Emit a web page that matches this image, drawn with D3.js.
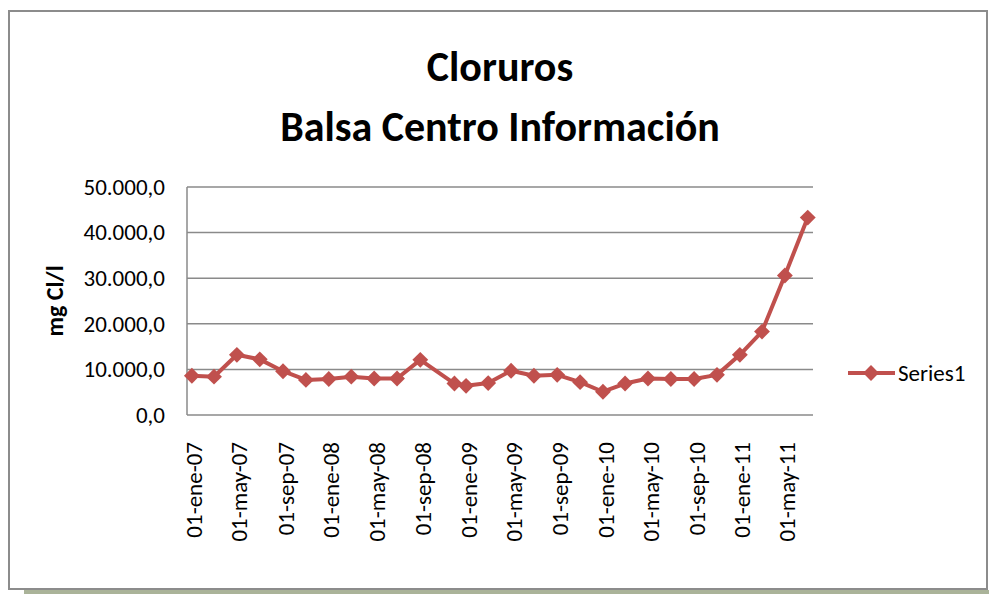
<!DOCTYPE html>
<html>
<head>
<meta charset="utf-8">
<script src="https://cdn.jsdelivr.net/npm/d3@7"></script>
<style>
  body { margin: 0; background: #ffffff; }
  .tick_text { font-family: Calibri, Carlito, "Open Sans", sans-serif; font-size: 23px; fill: #000; }
  .titles { font-family: Calibri, Carlito, "Open Sans", sans-serif; font-weight: bold; fill: #000; }
</style>
</head>
<body>
<script>

// sample dates (every two months, one extra sample in Dec 2008)
var dates = ["2007-01-01", "2007-03-01", "2007-05-01", "2007-07-01", "2007-09-01", "2007-11-01",
             "2008-01-01", "2008-03-01", "2008-05-01", "2008-07-01", "2008-09-01", "2008-12-01",
             "2009-01-01", "2009-03-01", "2009-05-01", "2009-07-01", "2009-09-01", "2009-11-01",
             "2010-01-01", "2010-03-01", "2010-05-01", "2010-07-01", "2010-09-01", "2010-11-01",
             "2011-01-01", "2011-03-01", "2011-05-01", "2011-07-01"];

// chloride values, mg Cl/l
var values = [8600, 8400, 13200, 12200, 9600, 7700,
              7900, 8400, 8000, 8000, 12100, 6900,
              6400, 7000, 9700, 8600, 8800, 7200,
              5100, 6900, 8000, 7900, 7900, 8800,
              13200, 18300, 30600, 43300];

var yTicks = [0, 10000, 20000, 30000, 40000, 50000];
var xTickLabels = ["01-ene-07", "01-may-07", "01-sep-07", "01-ene-08", "01-may-08", "01-sep-08", "01-ene-09",
                   "01-may-09", "01-sep-09", "01-ene-10", "01-may-10", "01-sep-10", "01-ene-11", "01-may-11"];
var seriesName = "Series1";

window.onload = function() {

  var w = 989;
  var h = 594;
  var margin = {top: 187, right: 176, bottom: 179, left: 187};
  var red = "#c0504d";

  var parse = d3.timeParse("%Y-%m-%d");
  var data = dates.map(function(d, i) { return [parse(d), values[i]]; });

  var svg = d3.select("body").append("svg")
              .attr("width", w)
              .attr("height", h);

  // shadow below the frame
  svg.append("rect")
     .attr("x", 24).attr("y", 590)
     .attr("width", w - 24).attr("height", 4)
     .style("fill", "#aab399");

  // chart frame
  svg.append("rect")
     .attr("x", 9).attr("y", 11)
     .attr("width", 978).attr("height", 578)
     .style("fill", "#ffffff")
     .style("stroke", "#8c8c8c")
     .style("stroke-width", 2);

  // title
  svg.append("text")
     .attr("class", "titles")
     .attr("x", 500).attr("y", 81)
     .style("font-size", "42px")
     .style("text-anchor", "middle")
     .text("Cloruros");

  svg.append("text")
     .attr("class", "titles")
     .attr("x", 500).attr("y", 141)
     .style("font-size", "42px")
     .style("text-anchor", "middle")
     .text("Balsa Centro Información");

  var xScale = d3.scaleTime()
                 .domain([parse("2006-12-19"), parse("2011-07-15")])
                 .range([margin.left, w - margin.right]);

  var yScale = d3.scaleLinear()
                 .domain([0, 50000])
                 .range([h - margin.bottom, margin.top]);

  // gridlines
  svg.selectAll(".grid")
     .data(yTicks)
     .enter().append("line")
     .attr("class", "grid")
     .attr("x1", margin.left)
     .attr("x2", w - margin.right)
     .attr("y1", function(d) { return yScale(d); })
     .attr("y2", function(d) { return yScale(d); })
     .style("stroke", "#8a8a8a")
     .style("stroke-width", 1.5);

  // left axis line
  svg.append("line")
     .attr("x1", margin.left).attr("x2", margin.left)
     .attr("y1", yScale(0)).attr("y2", yScale(50000))
     .style("stroke", "#8a8a8a")
     .style("stroke-width", 1.5);

  // y-axis
  var fmt = function(d) {
    return d3.format(",.1f")(d).replace(/,/g, "#").replace(".", ",").replace(/#/g, ".");
  };
  var yAxis = svg.append("g")
                 .attr("transform", "translate(" + margin.left + ",0)")
                 .call(d3.axisLeft(yScale).tickValues(yTicks).tickSize(0).tickPadding(22).tickFormat(fmt));
  yAxis.select(".domain").remove();
  yAxis.selectAll("text").attr("class", "tick_text").attr("fill", null);

  // y label
  svg.append("text")
     .attr("class", "titles")
     .attr("transform", "translate(63, 301) rotate(-90)")
     .style("font-size", "24px")
     .style("text-anchor", "middle")
     .text("mg Cl/l");

  // x-axis labels, every four months
  var tickDates = d3.timeMonth.every(4).range(parse("2007-01-01"), parse("2011-06-01"));
  var xAxis = svg.append("g")
                 .attr("transform", "translate(0," + (h - margin.bottom) + ")")
                 .call(d3.axisBottom(xScale).tickValues(tickDates).tickSize(0)
                         .tickFormat(function(d, i) { return xTickLabels[i]; }));
  xAxis.select(".domain").remove();
  xAxis.selectAll("text")
       .attr("class", "tick_text")
       .attr("fill", null)
       .attr("transform", "rotate(-90)")
       .attr("x", -27)
       .attr("y", 2)
       .attr("dy", "0.35em")
       .style("text-anchor", "end");

  // line
  var line = d3.line()
               .x(function(d) { return xScale(d[0]); })
               .y(function(d) { return yScale(d[1]); });

  svg.append("path")
     .datum(data)
     .attr("d", line)
     .style("fill", "none")
     .style("stroke", red)
     .style("stroke-width", 4)
     .style("stroke-linejoin", "round");

  // diamond markers
  var diamond = d3.symbol().type(d3.symbolDiamond2).size(160);
  svg.selectAll(".dots")
     .data(data)
     .enter().append("path")
     .attr("class", "dots")
     .attr("d", diamond)
     .attr("transform", function(d) {
       return "translate(" + xScale(d[0]) + "," + yScale(d[1]) + ")";
     })
     .style("fill", red);

  // legend
  svg.append("line")
     .attr("x1", 848).attr("x2", 895)
     .attr("y1", 373).attr("y2", 373)
     .style("stroke", red)
     .style("stroke-width", 4);

  svg.append("path")
     .attr("d", diamond)
     .attr("transform", "translate(871,373)")
     .style("fill", red);

  svg.append("text")
     .attr("class", "tick_text")
     .attr("x", 898).attr("y", 381)
     .text(seriesName);
};

</script>
</body>
</html>
